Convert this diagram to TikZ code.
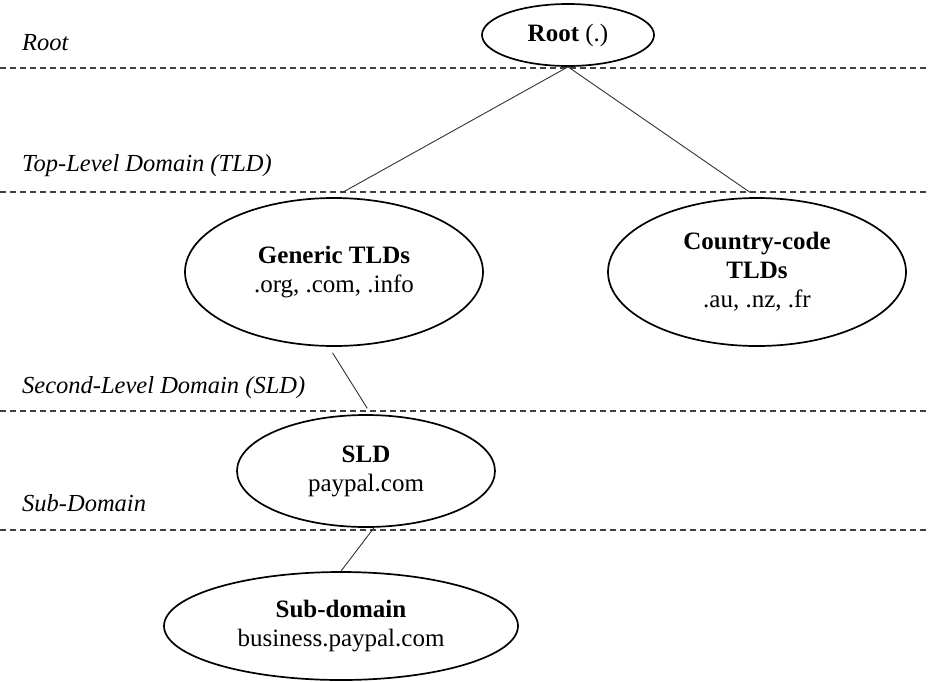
\documentclass[tikz,border=0pt]{standalone}
\usepackage{fontspec}
\setmainfont{Liberation Serif}
\usetikzlibrary{shapes.geometric}
\begin{document}
\begin{tikzpicture}[x=1pt,y=-1pt,
  lvl/.style={ellipse,draw=black,line width=1.7pt,inner sep=0pt,align=center,
    font=\fontsize{25}{29}\selectfont},
  conn/.style={draw=black!80,line width=0.9pt},
  sep/.style={draw=black!75,line width=1.3pt,dash pattern=on 6pt off 4pt},
  lab/.style={anchor=base west,inner sep=0pt,font=\fontsize{24.5}{29}\selectfont\itshape}]
\useasboundingbox (0,0) rectangle (929,681);
% separators
\coordinate (s1l) at (0,68);   \coordinate (s1r) at (929,68);
\coordinate (s2l) at (0,192);  \coordinate (s2r) at (929,192);
\coordinate (s3l) at (0,411);  \coordinate (s3r) at (929,411);
\coordinate (s4l) at (0,530);  \coordinate (s4r) at (929,530);
\draw[sep] (s1l) -- (s1r);
\draw[sep] (s2l) -- (s2r);
\draw[sep] (s3l) -- (s3r);
\draw[sep] (s4l) -- (s4r);
% level labels
\node[lab] (lroot) at (22,50) {Root};
\node[lab] (ltld) at (22,171) {Top-Level Domain (TLD)};
\node[lab] (lsld) at (22,393) {Second-Level Domain (SLD)};
\node[lab] (lsub) at (22,511) {Sub-Domain};
% nodes
\node[lvl,fill=white,minimum width=172pt,minimum height=62pt] (root) at (568,35) {\textbf{Root} (.)};
\node[lvl,minimum width=298pt,minimum height=148pt] (gen) at (334,272) {\textbf{Generic TLDs}\\.org, .com, .info};
\node[lvl,minimum width=298pt,minimum height=148pt] (cc) at (757,272) {\textbf{Country-code}\\\textbf{TLDs}\\.au, .nz, .fr};
\node[lvl,fill=white,minimum width=258pt,minimum height=112pt] (sld) at (366,471) {\textbf{SLD}\\paypal.com};
\node[lvl,minimum width=354pt,minimum height=108pt] (sub) at (341,626) {\textbf{Sub-domain}\\business.paypal.com};
% connectors
\draw[conn,shorten >=9pt] (root.south) -- (gen.north);
\draw[conn,shorten >=8pt] (root.south) -- (cc.north);
\draw[conn,shorten <=7pt,shorten >=7pt] (gen.-94) -- (sld.85);
\draw[conn] (sld.-82) -- (sub.north);
\end{tikzpicture}
\end{document}
